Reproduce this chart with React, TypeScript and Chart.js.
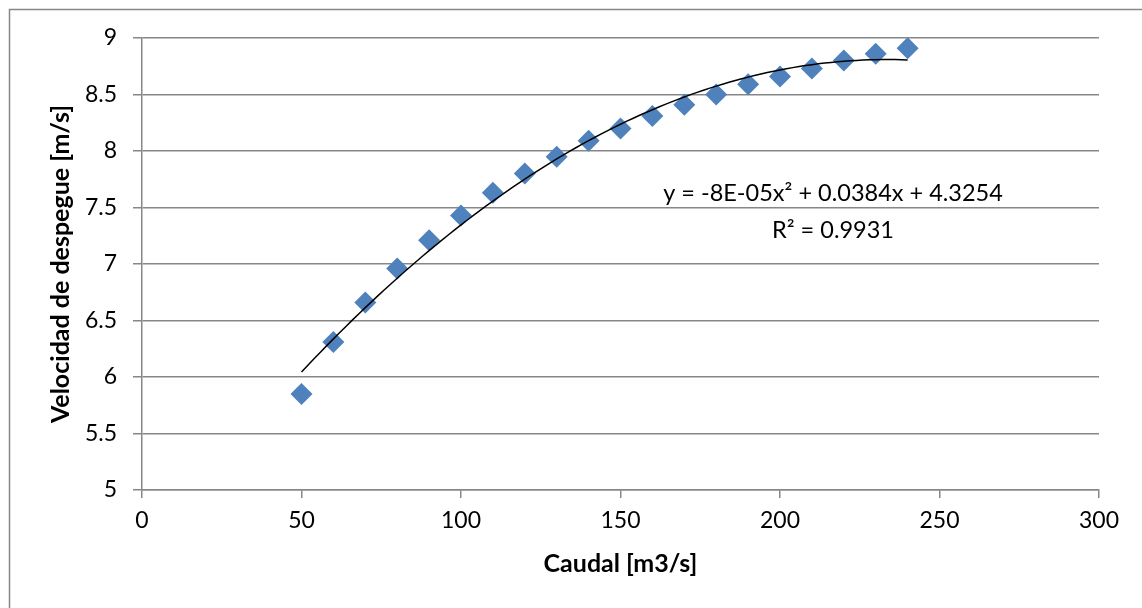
import React, { useEffect, useRef } from "react";
import { Chart, registerables } from "chart.js";

Chart.register(...registerables);

// Caudal [m3/s] and measured take-off velocity [m/s]
const caudal = [50, 60, 70, 80, 90, 100, 110, 120, 130, 140, 150, 160, 170, 180, 190, 200, 210, 220, 230, 240];
const velocidad = [5.85, 6.31, 6.66, 6.96, 7.21, 7.43, 7.63, 7.80, 7.95, 8.09, 8.20, 8.31, 8.41, 8.50, 8.59, 8.66, 8.73, 8.80, 8.86, 8.91];

const xTicks = [0, 50, 100, 150, 200, 250, 300];
const yTicks = [5, 5.5, 6, 6.5, 7, 7.5, 8, 8.5, 9];

const xTitle = "Caudal [m3/s]";
const yTitle = "Velocidad de despegue [m/s]";
const equationLabel = "y = -8E-05x² + 0.0384x + 4.3254";
const r2Label = "R² = 0.9931";

const FONT = "Lato, 'Open Sans', sans-serif";
const GRID = "#878787";

// Least-squares quadratic fit (polynomial trendline of order 2)
function fitQuadratic(xs: number[], ys: number[]) {
  let s0 = 0, s1 = 0, s2 = 0, s3 = 0, s4 = 0, t0 = 0, t1 = 0, t2 = 0;
  xs.forEach((x, i) => {
    const y = ys[i];
    s0 += 1; s1 += x; s2 += x * x; s3 += x * x * x; s4 += x * x * x * x;
    t0 += y; t1 += x * y; t2 += x * x * y;
  });
  const m = [
    [s4, s3, s2, t2],
    [s3, s2, s1, t1],
    [s2, s1, s0, t0],
  ];
  for (let i = 0; i < 3; i++) {
    for (let k = i + 1; k < 3; k++) {
      const f = m[k][i] / m[i][i];
      for (let j = i; j < 4; j++) m[k][j] -= f * m[i][j];
    }
  }
  const c = [0, 0, 0];
  for (let i = 2; i >= 0; i--) {
    let s = m[i][3];
    for (let j = i + 1; j < 3; j++) s -= m[i][j] * c[j];
    c[i] = s / m[i][i];
  }
  return c; // [a, b, c]
}

export default function App() {
  const canvasRef = useRef<HTMLCanvasElement | null>(null);

  useEffect(() => {
    document.body.style.margin = "0";
    const canvas = canvasRef.current;
    if (!canvas) return;

    const [a, b, c] = fitQuadratic(caudal, velocidad);
    const xMin = caudal[0];
    const xMax = caudal[caudal.length - 1];
    const trend: { x: number; y: number }[] = [];
    for (let i = 0; i <= 95; i++) {
      const x = xMin + ((xMax - xMin) * i) / 95;
      trend.push({ x, y: a * x * x + b * x + c });
    }

    const frame = {
      id: "frame",
      beforeDraw(chart: any) {
        const ctx = chart.ctx;
        ctx.save();
        ctx.fillStyle = "#ffffff";
        ctx.fillRect(0, 0, chart.width, chart.height);
        ctx.strokeStyle = GRID;
        ctx.lineWidth = 1.5;
        ctx.strokeRect(9.5, 9.5, chart.width + 10, chart.height + 10);
        ctx.restore();
      },
      afterDraw(chart: any) {
        const ctx = chart.ctx;
        const area = chart.chartArea;
        ctx.save();
        ctx.fillStyle = "#000000";
        ctx.textAlign = "center";
        ctx.textBaseline = "middle";
        // trendline equation and R²
        ctx.font = `23.5px ${FONT}`;
        ctx.fillText(equationLabel, 833, 193);
        ctx.fillText(r2Label, 833, 230);
        // axis titles
        ctx.font = `bold 25px ${FONT}`;
        ctx.fillText(xTitle, (area.left + area.right) / 2, 564);
        ctx.translate(61, (area.top + area.bottom) / 2);
        ctx.rotate(-Math.PI / 2);
        ctx.fillText(yTitle, 0, 0);
        ctx.restore();
      },
    };

    const chart = new Chart(canvas, {
      type: "scatter",
      data: {
        datasets: [
          {
            label: "Velocidad",
            data: caudal.map((x, i) => ({ x, y: velocidad[i] })),
            pointStyle: "rectRot",
            pointRadius: 11,
            pointHoverRadius: 11,
            backgroundColor: "#4F81BD",
            borderColor: "#4F81BD",
            borderWidth: 0,
            order: 2,
          },
          {
            label: "Tendencia",
            type: "line",
            data: trend,
            showLine: true,
            pointRadius: 0,
            borderColor: "#000000",
            borderWidth: 1.5,
            tension: 0,
            fill: false,
            order: 1,
          } as any,
        ],
      },
      plugins: [frame],
      options: {
        animation: false,
        responsive: false,
        maintainAspectRatio: false,
        layout: { padding: { top: 38, right: 43, left: 0, bottom: 0 } },
        plugins: {
          legend: { display: false },
          tooltip: { enabled: false },
        },
        scales: {
          x: {
            type: "linear",
            min: 0,
            max: 300,
            afterBuildTicks: (s: any) => {
              s.ticks = xTicks.map((v) => ({ value: v }));
            },
            afterFit: (s: any) => {
              s.height = 118;
            },
            ticks: {
              color: "#000",
              font: { family: FONT, size: 23 },
              padding: 9,
              maxRotation: 0,
              autoSkip: false,
              callback: (v: any) => String(v),
            },
            grid: {
              drawOnChartArea: false,
              drawTicks: true,
              tickLength: 8,
              color: GRID,
              lineWidth: 1.5,
            },
            border: { display: true, color: GRID, width: 1.5 },
          },
          y: {
            type: "linear",
            min: 5,
            max: 9,
            afterBuildTicks: (s: any) => {
              s.ticks = yTicks.map((v) => ({ value: v }));
            },
            afterFit: (s: any) => {
              s.width = 142;
            },
            ticks: {
              color: "#000",
              font: { family: FONT, size: 23 },
              padding: 16,
              autoSkip: false,
              callback: (v: any) => String(v),
            },
            grid: {
              drawOnChartArea: true,
              drawTicks: true,
              tickLength: 9,
              color: GRID,
              lineWidth: 1.5,
            },
            border: { display: true, color: GRID, width: 1.5 },
          },
        },
      } as any,
    });

    return () => chart.destroy();
  }, []);

  return (
    <div style={{ width: 1142, height: 608 }}>
      <canvas ref={canvasRef} width={1142} height={608} style={{ display: "block" }} />
    </div>
  );
}
